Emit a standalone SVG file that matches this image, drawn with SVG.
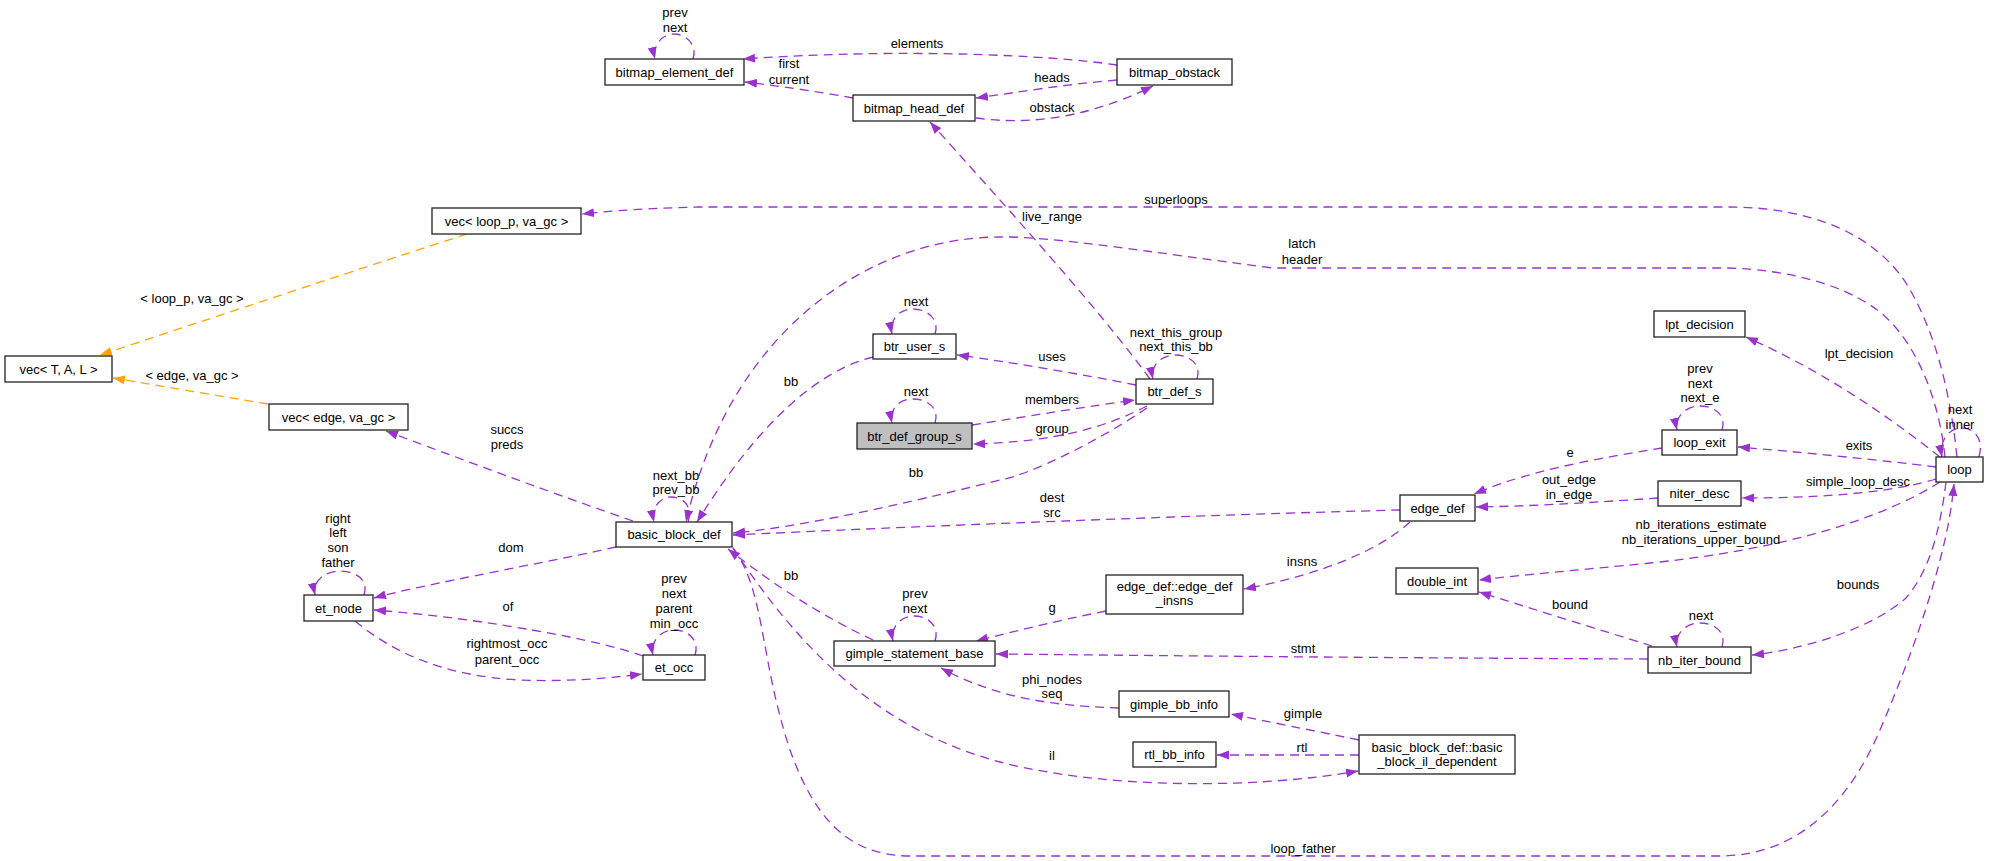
<svg xmlns="http://www.w3.org/2000/svg" width="1989" height="861" viewBox="0 0 1989 861">
<style>
text{font-family:"Liberation Sans",Arial,Helvetica,sans-serif;font-size:13px;text-anchor:middle;fill:#000}
.n rect{fill:#fff;stroke:#222;stroke-width:1.3}
.n.g rect{fill:#bfbfbf}
.e path{fill:none;stroke:#9a32cd;stroke-width:1.3;stroke-dasharray:9,6;marker-end:url(#ap)}
.e path.o{stroke:#ffa500;marker-end:url(#ao)}
</style>
<defs>
<marker id="ap" markerUnits="userSpaceOnUse" markerWidth="13" markerHeight="10" refX="12" refY="4.5" orient="auto"><path d="M0,0 L12,4.5 L0,9 z" fill="#9a32cd"/></marker>
<marker id="ao" markerUnits="userSpaceOnUse" markerWidth="13" markerHeight="10" refX="12" refY="4.5" orient="auto"><path d="M0,0 L12,4.5 L0,9 z" fill="#ffa500"/></marker>
</defs>
<rect width="1989" height="861" fill="#fff"/>
<g id="edges" class="e">
<path class="o" d="M467,234 C380,262 200,322 100,355"/>
<path class="o" d="M268,404 C220,396 160,386 113,378"/>
<path d="M693,59 C698,44 685,34 674,34 C661,34 652,47 655,59"/>
<path d="M1117,65 C1050,55 900,48 743,59"/>
<path d="M853,98 C820,92 780,86 745,82"/>
<path d="M1117,80 C1060,85 1020,92 976,98"/>
<path d="M976,118 C1020,124 1080,122 1153,86"/>
<path d="M1150,379 C1100,310 1000,200 930,122"/>
<path d="M1957,457 C1950,390 1935,330 1906,283 C1870,228 1800,207 1729,207 L700,207 C650,208 610,211 582,214"/>
<path d="M1945,457 C1938,390 1910,330 1870,305 C1840,285 1790,270 1729,268 L1273,268 C1150,252 1050,236 1000,237 C870,237 730,330 686,522"/>
<path d="M873,357 C820,370 760,420 697,522"/>
<path d="M935,334 C940,319 927,309 913,309 C899,309 889,320 892,334"/>
<path d="M935,423 C940,408 927,399 913,399 C899,399 889,409 892,423"/>
<path d="M1197,379 C1202,364 1189,355 1175,355 C1161,355 1150,366 1153,379"/>
<path d="M688,522 C693,507 684,497 671,497 C659,497 651,509 654,522"/>
<path d="M1136,385 C1080,374 1010,362 957,355"/>
<path d="M972,425 C1030,416 1090,406 1135,400"/>
<path d="M1147,406 C1110,425 1060,442 973,444"/>
<path d="M1147,408 C1100,440 1030,475 1000,480 C900,505 800,527 733,533"/>
<path d="M1400,510 C1200,515 900,527 733,535"/>
<path d="M633,521 C560,496 450,455 386,431"/>
<path d="M616,547 C560,560 420,585 374,598"/>
<path d="M643,656 C600,640 480,618 374,610"/>
<path d="M355,621 C390,650 440,676 520,680 C570,682 610,678 642,674"/>
<path d="M364,595 C369,580 356,571 340,571 C324,571 312,582 315,595"/>
<path d="M695,655 C700,640 688,630 674,630 C660,630 650,642 653,655"/>
<path d="M873,640 C830,620 780,590 728,549"/>
<path d="M935,641 C940,626 928,616 914,616 C900,616 890,628 893,641"/>
<path d="M733,548 C800,650 880,730 1000,762 C1100,788 1250,790 1358,771"/>
<path d="M733,548 C765,590 760,660 790,750 C815,820 850,856 910,856 L1719,856 C1800,856 1850,800 1880,730 C1910,660 1930,600 1940,560 C1948,530 1952,505 1954,484"/>
<path d="M1106,611 C1060,620 1020,630 976,641"/>
<path d="M1410,522 C1380,550 1320,575 1244,589"/>
<path d="M1119,708 C1060,706 1000,700 941,668"/>
<path d="M1359,740 C1310,730 1270,722 1231,714"/>
<path d="M1359,755 L1217,755"/>
<path d="M1648,659 C1400,658 1200,656 996,654"/>
<path d="M1652,646 C1600,630 1530,608 1479,592"/>
<path d="M1722,647 C1727,632 1714,623 1700,623 C1686,623 1674,634 1677,647"/>
<path d="M1946,482 C1940,530 1930,570 1906,598 C1870,630 1800,650 1752,655"/>
<path d="M1940,482 C1880,520 1780,550 1650,563 C1580,570 1520,575 1479,580"/>
<path d="M1936,479 C1900,490 1840,498 1742,498"/>
<path d="M1936,467 C1880,460 1800,452 1738,447"/>
<path d="M1940,457 C1880,410 1820,370 1746,337"/>
<path d="M1979,457 C1984,440 1975,428 1962,428 C1948,428 1939,442 1942,457"/>
<path d="M1722,430 C1727,415 1714,406 1700,406 C1686,406 1674,417 1677,430"/>
<path d="M1662,448 C1600,458 1530,470 1474,494"/>
<path d="M1658,498 C1600,502 1540,506 1476,507"/>
<text x="192" y="303">&lt; loop_p, va_gc &gt;</text>
<text x="192" y="380">&lt; edge, va_gc &gt;</text>
<text x="675" y="17">prev</text><text x="675" y="32">next</text>
<text x="917" y="48">elements</text>
<text x="789" y="68">first</text><text x="789" y="84">current</text>
<text x="1052" y="82">heads</text>
<text x="1052" y="112">obstack</text>
<text x="1176" y="204">superloops</text>
<text x="1052" y="221">live_range</text>
<text x="1302" y="248">latch</text><text x="1302" y="264">header</text>
<text x="916" y="306">next</text>
<text x="1176" y="337">next_this_group</text><text x="1176" y="351">next_this_bb</text>
<text x="1859" y="358">lpt_decision</text>
<text x="1052" y="361">uses</text>
<text x="1700" y="373">prev</text><text x="1700" y="388">next</text><text x="1700" y="402">next_e</text>
<text x="791" y="386">bb</text>
<text x="916" y="396">next</text>
<text x="1052" y="404">members</text>
<text x="1960" y="414">next</text><text x="1960" y="429">inner</text>
<text x="507" y="434">succs</text><text x="507" y="449">preds</text>
<text x="1052" y="433">group</text>
<text x="1859" y="450">exits</text>
<text x="1570" y="457">e</text>
<text x="916" y="477">bb</text>
<text x="676" y="480">next_bb</text><text x="676" y="494">prev_bb</text>
<text x="1569" y="484">out_edge</text><text x="1569" y="499">in_edge</text>
<text x="1052" y="502">dest</text><text x="1052" y="517">src</text>
<text x="1858" y="486">simple_loop_desc</text>
<text x="1701" y="529">nb_iterations_estimate</text><text x="1701" y="544">nb_iterations_upper_bound</text>
<text x="338" y="523">right</text><text x="338" y="537">left</text><text x="338" y="552">son</text><text x="338" y="567">father</text>
<text x="511" y="552">dom</text>
<text x="1302" y="566">insns</text>
<text x="791" y="580">bb</text>
<text x="674" y="583">prev</text><text x="674" y="598">next</text><text x="674" y="613">parent</text><text x="674" y="628">min_occ</text>
<text x="1858" y="589">bounds</text>
<text x="915" y="598">prev</text><text x="915" y="613">next</text>
<text x="1570" y="609">bound</text>
<text x="508" y="611">of</text>
<text x="1052" y="612">g</text>
<text x="1701" y="620">next</text>
<text x="507" y="648">rightmost_occ</text><text x="507" y="664">parent_occ</text>
<text x="1303" y="653">stmt</text>
<text x="1052" y="684">phi_nodes</text><text x="1052" y="698">seq</text>
<text x="1303" y="718">gimple</text>
<text x="1302" y="752">rtl</text>
<text x="1052" y="760">il</text>
<text x="1303" y="853">loop_father</text>
</g>
<g id="n_bitmap_element_def" class="n"><rect x="605" y="59" width="139" height="26"/><text x="674.5" y="76.5">bitmap_element_def</text></g>
<g id="n_bitmap_head_def" class="n"><rect x="853" y="95" width="122" height="26"/><text x="914" y="112.5">bitmap_head_def</text></g>
<g id="n_bitmap_obstack" class="n"><rect x="1117" y="59" width="115" height="26"/><text x="1174.5" y="76.5">bitmap_obstack</text></g>
<g id="n_vec_loop" class="n"><rect x="432" y="208" width="149" height="26"/><text x="506.5" y="225.5">vec&lt; loop_p, va_gc &gt;</text></g>
<g id="n_vec_TAL" class="n"><rect x="5" y="356" width="107" height="26"/><text x="58.5" y="373.5">vec&lt; T, A, L &gt;</text></g>
<g id="n_vec_edge" class="n"><rect x="269" y="404" width="139" height="26"/><text x="338.5" y="421.5">vec&lt; edge, va_gc &gt;</text></g>
<g id="n_et_node" class="n"><rect x="304" y="595" width="69" height="26"/><text x="338.5" y="612.5">et_node</text></g>
<g id="n_basic_block_def" class="n"><rect x="616" y="522" width="116" height="25"/><text x="674" y="539">basic_block_def</text></g>
<g id="n_btr_user_s" class="n"><rect x="873" y="334" width="83" height="25"/><text x="914.5" y="351">btr_user_s</text></g>
<g id="n_btr_def_group_s" class="n g"><rect x="857" y="423" width="115" height="26"/><text x="914.5" y="440.5">btr_def_group_s</text></g>
<g id="n_btr_def_s" class="n"><rect x="1136" y="379" width="77" height="25"/><text x="1174.5" y="396">btr_def_s</text></g>
<g id="n_edge_def" class="n"><rect x="1400" y="495" width="75" height="26"/><text x="1437.5" y="512.5">edge_def</text></g>
<g id="n_lpt_decision" class="n"><rect x="1654" y="311" width="91" height="26"/><text x="1699.5" y="328.5">lpt_decision</text></g>
<g id="n_loop_exit" class="n"><rect x="1662" y="430" width="75" height="25"/><text x="1699.5" y="447">loop_exit</text></g>
<g id="n_niter_desc" class="n"><rect x="1658" y="481" width="83" height="25"/><text x="1699.5" y="498">niter_desc</text></g>
<g id="n_loop" class="n"><rect x="1936" y="457" width="47" height="25"/><text x="1959.5" y="474">loop</text></g>
<g id="n_et_occ" class="n"><rect x="643" y="655" width="62" height="25"/><text x="674" y="672">et_occ</text></g>
<g id="n_gimple_statement_base" class="n"><rect x="834" y="641" width="161" height="25"/><text x="914.5" y="658">gimple_statement_base</text></g>
<g id="n_edge_def_insns" class="n"><rect x="1106" y="575" width="137" height="39"/><text x="1174.5" y="591">edge_def::edge_def</text><text x="1174.5" y="605">_insns</text></g>
<g id="n_double_int" class="n"><rect x="1396" y="568" width="82" height="26"/><text x="1437" y="585.5">double_int</text></g>
<g id="n_gimple_bb_info" class="n"><rect x="1119" y="691" width="110" height="26"/><text x="1174" y="708.5">gimple_bb_info</text></g>
<g id="n_rtl_bb_info" class="n"><rect x="1133" y="742" width="83" height="25"/><text x="1174.5" y="759">rtl_bb_info</text></g>
<g id="n_bb_il_dependent" class="n"><rect x="1359" y="735" width="156" height="39"/><text x="1437" y="752">basic_block_def::basic</text><text x="1437" y="766">_block_il_dependent</text></g>
<g id="n_nb_iter_bound" class="n"><rect x="1648" y="647" width="103" height="26"/><text x="1699.5" y="664.5">nb_iter_bound</text></g>
</svg>
